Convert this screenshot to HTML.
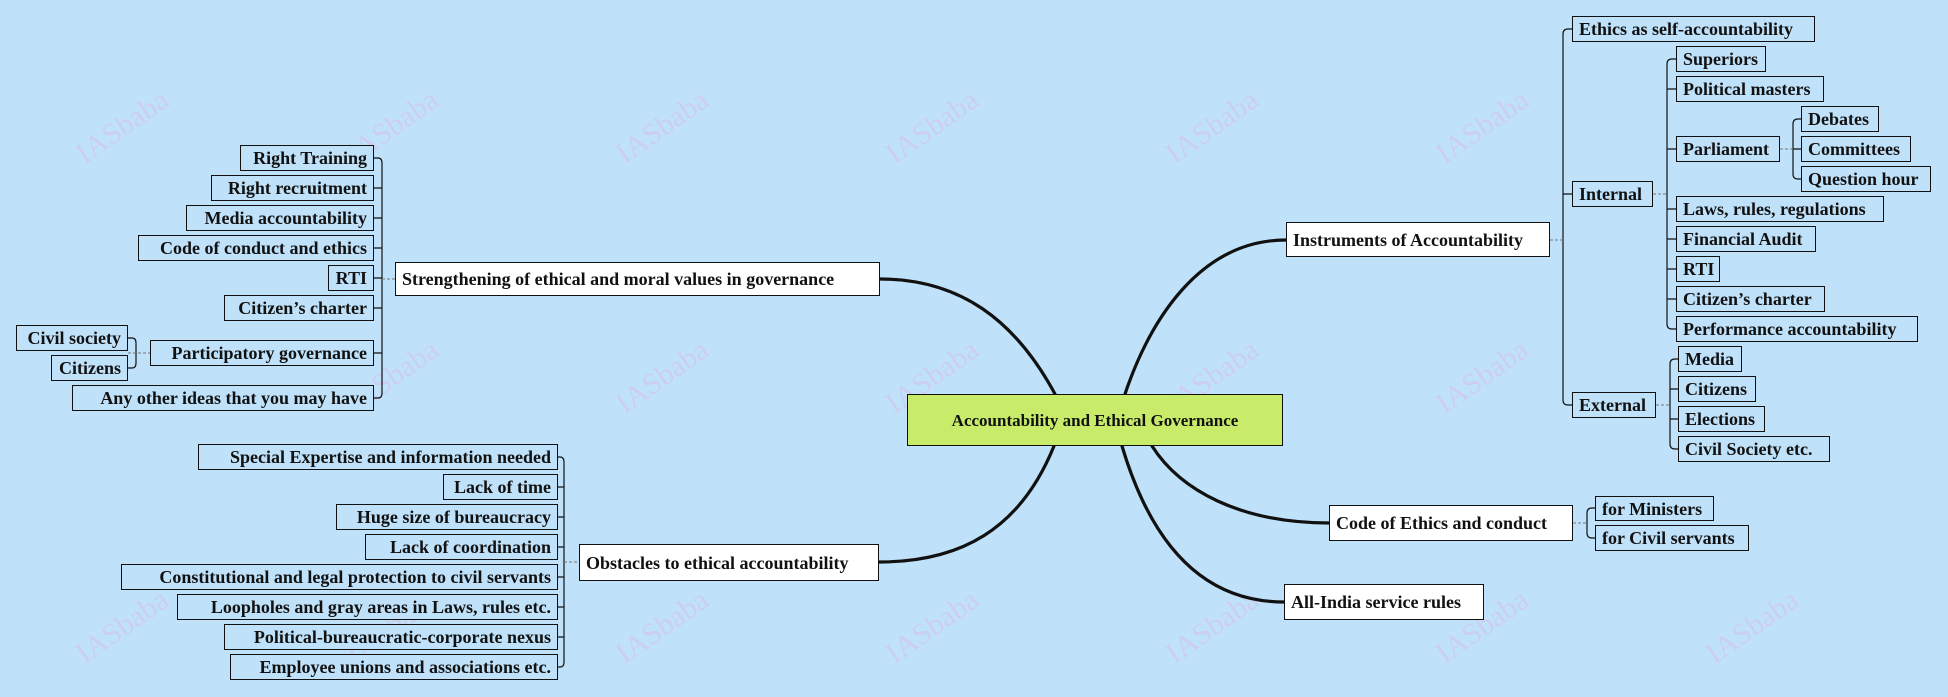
<!DOCTYPE html>
<html><head><meta charset="utf-8"><style>
html,body{margin:0;padding:0}
body{width:1948px;height:697px;background:#bfe2fa;position:relative;overflow:hidden;font-family:"Liberation Serif",serif;font-weight:bold;color:#111}
.b{position:absolute;box-sizing:border-box;border:1.5px solid #111;background:#bfe2fa;font-size:18px;white-space:nowrap;display:flex;align-items:center;padding:0 6px;line-height:1}
.r{justify-content:flex-end}
.w{background:#fff}
.c{background:#c8ec6a;justify-content:center;font-size:17px}
svg{position:absolute;left:0;top:0}
.wm{position:absolute;color:rgba(230,170,220,0.35);font-size:30px;transform:rotate(-35deg);font-weight:normal}
</style></head><body>
<div class="wm" style="left:70px;top:110px">IASbaba</div>
<div class="wm" style="left:340px;top:110px">IASbaba</div>
<div class="wm" style="left:610px;top:110px">IASbaba</div>
<div class="wm" style="left:880px;top:110px">IASbaba</div>
<div class="wm" style="left:1160px;top:110px">IASbaba</div>
<div class="wm" style="left:1430px;top:110px">IASbaba</div>
<div class="wm" style="left:340px;top:360px">IASbaba</div>
<div class="wm" style="left:610px;top:360px">IASbaba</div>
<div class="wm" style="left:880px;top:360px">IASbaba</div>
<div class="wm" style="left:1160px;top:360px">IASbaba</div>
<div class="wm" style="left:1430px;top:360px">IASbaba</div>
<div class="wm" style="left:70px;top:610px">IASbaba</div>
<div class="wm" style="left:340px;top:610px">IASbaba</div>
<div class="wm" style="left:610px;top:610px">IASbaba</div>
<div class="wm" style="left:880px;top:610px">IASbaba</div>
<div class="wm" style="left:1160px;top:610px">IASbaba</div>
<div class="wm" style="left:1430px;top:610px">IASbaba</div>
<div class="wm" style="left:1700px;top:610px">IASbaba</div>

<svg width="1948" height="697" viewBox="0 0 1948 697">
<g fill="none" stroke="#111" stroke-linecap="round">
<!-- main curves -->
<path d="M1055 394 C1015 320 960 279 880 279" stroke-width="3.2"/>
<path d="M1125 394 C1150 320 1200 240 1286 240" stroke-width="3.2"/>
<path d="M1054 446 C1020 530 960 562 879 562" stroke-width="3.2"/>
<path d="M1122 446 C1150 540 1200 602 1284 602" stroke-width="3.2"/>
<path d="M1152 446 C1180 490 1240 523 1329 523" stroke-width="3.2"/>
</g>
<g fill="none" stroke="#111" stroke-width="1.2">
<!-- left strengthening bracket x=382 -->
<path d="M382 163 V393"/>
<path d="M374 158 h4 q4 0 4 5 M374 188 h8 M374 218 h8 M374 248 h8 M374 278 h8 M374 308 h8 M374 353 h8 M374 398 h4 q4 0 4 -5"/>
<path d="M136 343 V363 M128 338 h4 q4 0 4 5 M128 368 h4 q4 0 4 -5"/>
<!-- obstacles bracket x=564 -->
<path d="M564 462 V662"/>
<path d="M558 457 h2 q4 0 4 5 M558 487 h6 M558 517 h6 M558 547 h6 M558 577 h6 M558 607 h6 M558 637 h6 M558 667 h2 q4 0 4 -5"/>
<!-- instruments bracket x=1563 -->
<path d="M1563 34 V400"/>
<path d="M1572 29 h-4 q-5 0 -5 5 M1572 194 h-9 M1572 405 h-4 q-5 0 -5 -5"/>
<!-- internal bracket x=1667 -->
<path d="M1667 64 V324"/>
<path d="M1676 59 h-4 q-5 0 -5 5 M1676 89 h-9 M1676 149 h-9 M1676 209 h-9 M1676 239 h-9 M1676 269 h-9 M1676 299 h-9 M1676 329 h-4 q-5 0 -5 -5"/>
<!-- parliament bracket x=1793 -->
<path d="M1793 124 V174 M1801 119 h-3 q-5 0 -5 5 M1801 149 h-8 M1801 179 h-3 q-5 0 -5 -5"/>
<!-- external bracket x=1670 -->
<path d="M1670 364 V444 M1678 359 h-3 q-5 0 -5 5 M1678 389 h-8 M1678 419 h-8 M1678 449 h-3 q-5 0 -5 -5"/>
<!-- code bracket -->
<path d="M1587 513 V533 M1595 508 h-3 q-5 0 -5 5 M1595 538 h-3 q-5 0 -5 -5"/>
</g>
<g fill="none" stroke="#777" stroke-width="1" stroke-dasharray="3,2">
<path d="M382 279 H395"/><path d="M128 353 H150"/>
<path d="M564 562 H579"/>
<path d="M1550 240 H1563"/><path d="M1653 194 H1667"/><path d="M1780 149 H1793"/><path d="M1656 405 H1670"/>
<path d="M1573 523 H1587"/>
</g>
</svg>

<div class="b c" style="left:907px;top:394px;width:376px;height:52px">Accountability and Ethical Governance</div>

<div class="b w" style="left:395px;top:262px;width:485px;height:34px">Strengthening of ethical and moral values in governance</div>
<div class="b r" style="left:240px;top:145px;width:134px;height:26px">Right Training</div>
<div class="b r" style="left:211px;top:175px;width:163px;height:26px">Right recruitment</div>
<div class="b r" style="left:186px;top:205px;width:188px;height:26px">Media accountability</div>
<div class="b r" style="left:138px;top:235px;width:236px;height:26px">Code of conduct and ethics</div>
<div class="b r" style="left:328px;top:265px;width:46px;height:26px">RTI</div>
<div class="b r" style="left:224px;top:295px;width:150px;height:26px">Citizen’s charter</div>
<div class="b r" style="left:150px;top:340px;width:224px;height:26px">Participatory governance</div>
<div class="b r" style="left:16px;top:325px;width:112px;height:26px">Civil society</div>
<div class="b r" style="left:51px;top:355px;width:77px;height:26px">Citizens</div>
<div class="b r" style="left:72px;top:385px;width:302px;height:26px">Any other ideas that you may have</div>

<div class="b w" style="left:579px;top:544px;width:300px;height:37px">Obstacles to ethical accountability</div>
<div class="b r" style="left:198px;top:444px;width:360px;height:26px">Special Expertise and information needed</div>
<div class="b r" style="left:443px;top:474px;width:115px;height:26px">Lack of time</div>
<div class="b r" style="left:336px;top:504px;width:222px;height:26px">Huge size of bureaucracy</div>
<div class="b r" style="left:365px;top:534px;width:193px;height:26px">Lack of coordination</div>
<div class="b r" style="left:121px;top:564px;width:437px;height:26px">Constitutional and legal protection to civil servants</div>
<div class="b r" style="left:177px;top:594px;width:381px;height:26px">Loopholes and gray areas in Laws, rules etc.</div>
<div class="b r" style="left:224px;top:624px;width:334px;height:26px">Political-bureaucratic-corporate nexus</div>
<div class="b r" style="left:230px;top:654px;width:328px;height:26px">Employee unions and associations etc.</div>

<div class="b w" style="left:1286px;top:222px;width:264px;height:35px">Instruments of Accountability</div>
<div class="b" style="left:1572px;top:16px;width:243px;height:26px">Ethics as self-accountability</div>
<div class="b" style="left:1572px;top:181px;width:81px;height:26px">Internal</div>
<div class="b" style="left:1572px;top:392px;width:84px;height:26px">External</div>
<div class="b" style="left:1676px;top:46px;width:90px;height:26px">Superiors</div>
<div class="b" style="left:1676px;top:76px;width:148px;height:26px">Political masters</div>
<div class="b" style="left:1676px;top:136px;width:104px;height:26px">Parliament</div>
<div class="b" style="left:1801px;top:106px;width:78px;height:26px">Debates</div>
<div class="b" style="left:1801px;top:136px;width:110px;height:26px">Committees</div>
<div class="b" style="left:1801px;top:166px;width:130px;height:26px">Question hour</div>
<div class="b" style="left:1676px;top:196px;width:208px;height:26px">Laws, rules, regulations</div>
<div class="b" style="left:1676px;top:226px;width:140px;height:26px">Financial Audit</div>
<div class="b" style="left:1676px;top:256px;width:44px;height:26px">RTI</div>
<div class="b" style="left:1676px;top:286px;width:149px;height:26px">Citizen’s charter</div>
<div class="b" style="left:1676px;top:316px;width:242px;height:26px">Performance accountability</div>
<div class="b" style="left:1678px;top:346px;width:64px;height:26px">Media</div>
<div class="b" style="left:1678px;top:376px;width:78px;height:26px">Citizens</div>
<div class="b" style="left:1678px;top:406px;width:87px;height:26px">Elections</div>
<div class="b" style="left:1678px;top:436px;width:152px;height:26px">Civil Society etc.</div>

<div class="b w" style="left:1329px;top:505px;width:244px;height:36px">Code of Ethics and conduct</div>
<div class="b" style="left:1595px;top:496px;width:119px;height:25px">for Ministers</div>
<div class="b" style="left:1595px;top:525px;width:154px;height:26px">for Civil servants</div>

<div class="b w" style="left:1284px;top:584px;width:200px;height:36px">All-India service rules</div>
</body></html>
